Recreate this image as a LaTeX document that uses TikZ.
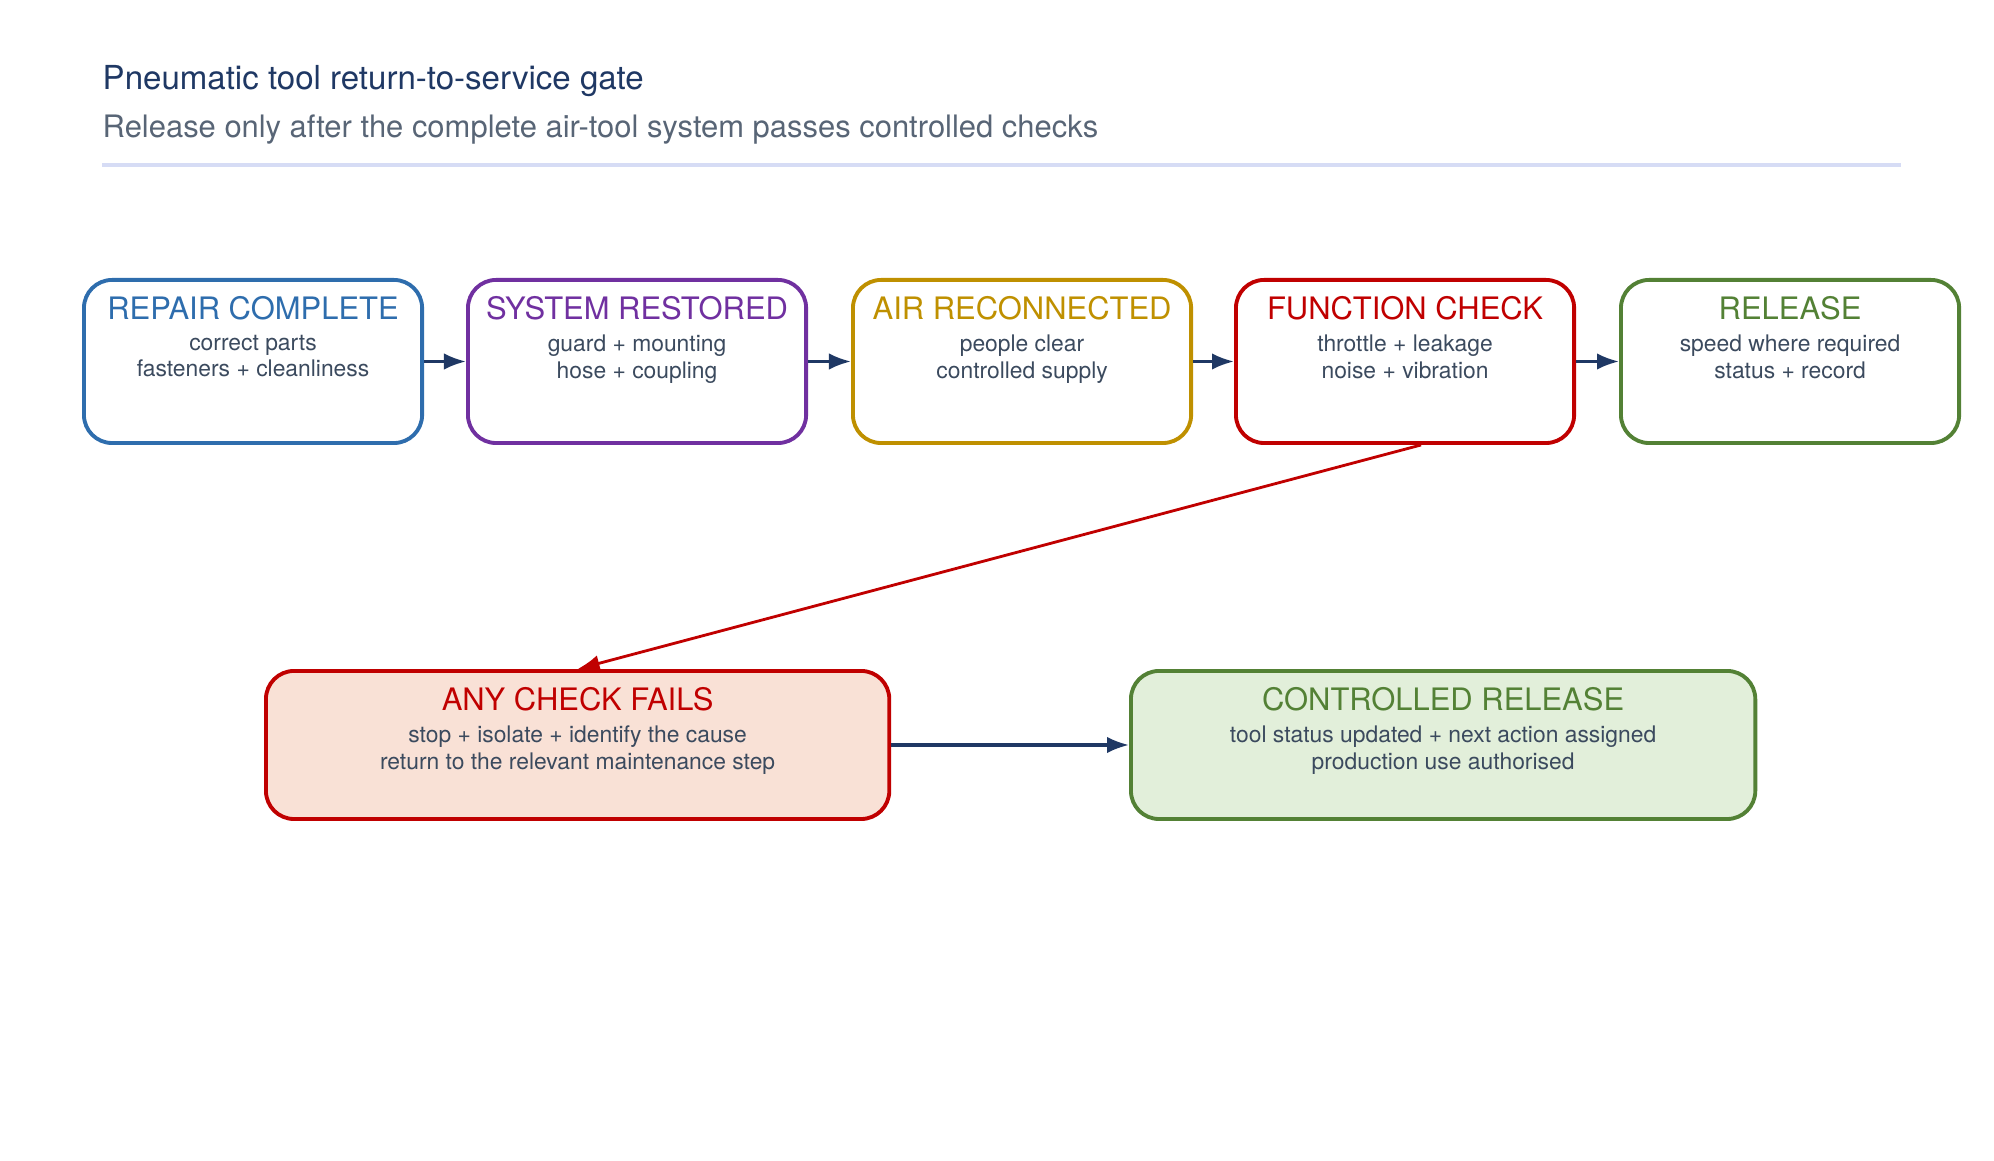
\documentclass[tikz,border=0pt]{standalone}
\usepackage{fontspec}
\setmainfont{TeX Gyre Heros}
\usetikzlibrary{positioning,arrows.meta}
\definecolor{cblue}{HTML}{2E6DAD}
\definecolor{cpurple}{HTML}{7030A0}
\definecolor{cgold}{HTML}{BF9000}
\definecolor{cred}{HTML}{C00000}
\definecolor{cgreen}{HTML}{538135}
\definecolor{cnavy}{HTML}{1F3864}
\definecolor{ctext}{HTML}{3B4A5E}
\definecolor{cline}{HTML}{D6DCF5}
\definecolor{fred}{HTML}{F9E1D6}
\definecolor{fgreen}{HTML}{E2EFDA}
\tikzset{
  stage/.style={draw=#1, line width=1.1pt, rounded corners=8pt, minimum width=3.38cm, minimum height=1.63cm, anchor=north west},
  head/.style={text=#1, font=\fontsize{8.8}{10}\selectfont},
  sub/.style={text=ctext, font=\fontsize{6.5}{7.6}\selectfont, align=center},
  flow/.style={-{Latex[length=2.2mm]}, line width=0.9pt, draw=cnavy}
}
\begin{document}
\begin{tikzpicture}[x=0.01cm, y=-0.01cm]
\useasboundingbox (0,0) rectangle (1994,1161);
\node[anchor=base west, inner sep=0pt, text=cnavy, font=\fontsize{9.4}{11}\selectfont] (ttl) at (102,90) {Pneumatic tool return-to-service gate};
\node[anchor=base west, inner sep=0pt, text=ctext!85, font=\fontsize{8.8}{11}\selectfont] (subttl) at (102,138) {Release only after the complete air-tool system passes controlled checks};
\draw[cline, line width=0.9pt] (102,165) -- (1901,165);

% top row
\node[stage=cblue] (rc) at (82,278) {};
\node[stage=cpurple] (sr) at (466,278) {};
\node[stage=cgold] (ar) at (851,278) {};
\node[stage=cred] (fc) at (1234,278) {};
\node[stage=cgreen] (rl) at (1619,278) {};
\foreach \b/\c/\t/\u in {rc/cblue/REPAIR COMPLETE/{correct parts\\fasteners + cleanliness},
    sr/cpurple/SYSTEM RESTORED/{guard + mounting\\hose + coupling},
    ar/cgold/AIR RECONNECTED/{people clear\\controlled supply},
    fc/cred/FUNCTION CHECK/{throttle + leakage\\noise + vibration},
    rl/cgreen/RELEASE/{speed where required\\status + record}}{
  \node[head=\c, below=0.06cm of \b.north] (\b t) {\t};
  \node[sub, below=-0.1cm of \b t] (\b s) {\u};
}

% bottom row
\node[stage=cred, fill=fred, minimum width=6.23cm, minimum height=1.48cm] (af) at (264,669) {};
\node[stage=cgreen, fill=fgreen, minimum width=6.24cm, minimum height=1.48cm] (cr) at (1129,669) {};
\node[head=cred, below=0.06cm of af.north] (aft) {ANY CHECK FAILS};
\node[sub, below=-0.1cm of aft] (afs) {stop + isolate + identify the cause\\return to the relevant maintenance step};
\node[head=cgreen, below=0.06cm of cr.north] (crt) {CONTROLLED RELEASE};
\node[sub, below=-0.1cm of crt] (crs) {tool status updated + next action assigned\\production use authorised};

\draw[flow] (rc) -- (sr);
\draw[flow] (sr) -- (ar);
\draw[flow] (ar) -- (fc);
\draw[flow] (fc) -- (rl);
\draw[flow, draw=cred, line width=0.8pt] ([xshift=0.16cm]fc.south) -- (af.north);
\draw[flow] (af) -- (cr);
\end{tikzpicture}
\end{document}
